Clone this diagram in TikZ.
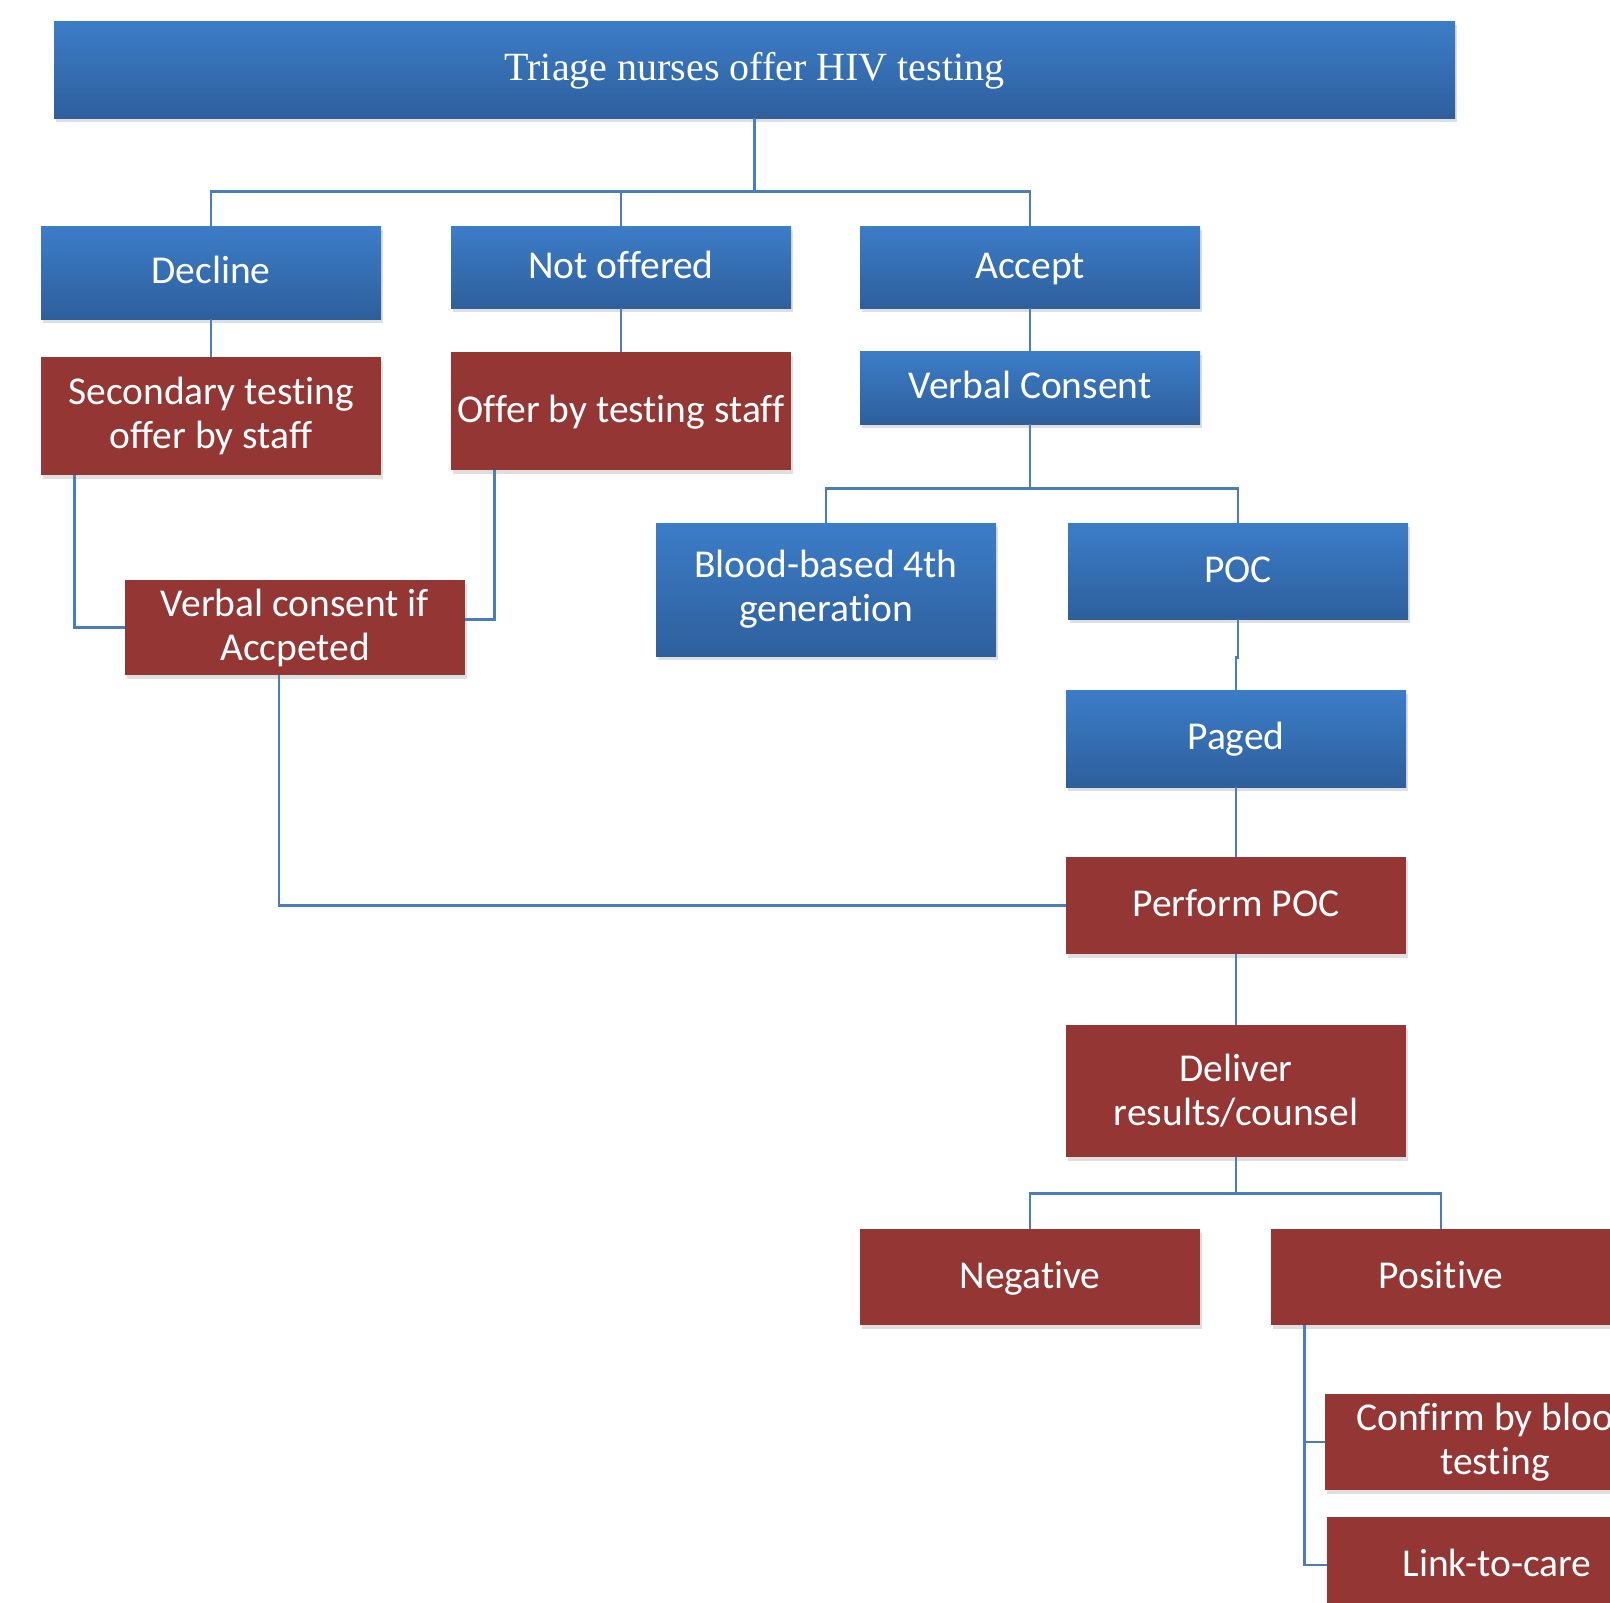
\documentclass[tikz,border=0pt]{standalone}
\usepackage{fontspec}
\setmainfont{Carlito}[Ligatures = NoCommon]
\newfontfamily\titlefont{Liberation Serif}
\usetikzlibrary{shadows}
\usetikzlibrary{calc}
\definecolor{boxblue}{HTML}{3C7DC8}
\definecolor{boxbluedark}{HTML}{2E5F9C}
\definecolor{boxred}{HTML}{943634}
\definecolor{connblue}{HTML}{4A7EBB}
\tikzset{ht/.style = {minimum height = #1 * 0.5pt}}
\tikzset{oneline/.style = {text height = 14.8pt, text depth = 3.75pt}}
\tikzset{box/.style = {minimum width = 170pt, inner sep = 0, align = center,
                       text = white, font = \fontsize{19.75}{22}\selectfont,
                       drop shadow = {shadow xshift = 1pt, shadow yshift = -2pt, opacity = 0.25}}}
\tikzset{bluebox/.style = {box, top color = boxblue, bottom color = boxbluedark}}
\tikzset{redbox/.style = {box, fill = boxred}}
\tikzset{conn/.style = {draw = connblue, line width = 1.2pt}}

\begin{document}
\begin{tikzpicture}[x = 0.5pt, y = -0.5pt]
    \useasboundingbox (0, 0) rectangle (1610, 1602);
    \clip (0, 0) rectangle (1610, 1602);

    \node [bluebox, oneline, minimum width = 700.5pt, ht = 97, font = \titlefont\fontsize{20}{24}\selectfont]
        (title) at (754.5, 69.5) {Triage nurses offer HIV testing};

    \node [bluebox, oneline, ht = 93] (decline) at (211, 272.5) {Decline};
    \node [bluebox, oneline, ht = 82] (notoff) at (621, 267) {Not offered};
    \node [bluebox, oneline, ht = 82] (accept) at (1030, 267) {Accept};
    \node [redbox, ht = 118] (second) at (211, 416) {Secondary testing\\offer by staff};
    \node [redbox, oneline, ht = 118] (offerstaff) at (621, 411) {Offer by testing staff};
    \node [bluebox, oneline, ht = 73] (verbal) at (1030, 387.5) {Verbal Consent};
    \node [bluebox, ht = 133] (blood) at (826, 589.5) {Blood-based 4th\\generation};
    \node [bluebox, oneline, ht = 96] (poc) at (1238, 571) {POC};
    \node [redbox, ht = 95] (vcif) at (295, 627.5) {Verbal consent if\\Accpeted};
    \node [bluebox, oneline, ht = 97] (paged) at (1236, 738.5) {Paged};
    \node [redbox, oneline, ht = 97] (perform) at (1236, 905.5) {Perform POC};
    \node [redbox, ht = 132] (deliver) at (1236, 1091) {Deliver\\results/counsel};
    \node [redbox, oneline, ht = 96] (negative) at (1030, 1277) {Negative};
    \node [redbox, oneline, ht = 96] (positive) at (1441, 1277) {Positive};
    \node [redbox, ht = 96] (confirm) at (1495, 1442) {Confirm by blood\\testing};
    \node [redbox, oneline, ht = 96] (linkcare) at (1497, 1565) {Link-to-care};

    % tree connectors
    \foreach \n in {decline, notoff, accept}
        \draw [conn] (title.south) -- ++(0, 73) -| (\n.north);
    \draw [conn] (decline) -- (second);
    \draw [conn] (notoff) -- (offerstaff);
    \draw [conn] (accept) -- (verbal);
    \foreach \n in {blood, poc}
        \draw [conn] (verbal.south) -- ++(0, 64) -| (\n.north);
    \draw [conn] (poc.south) -- ++(0, 38) -| (paged.north);
    \draw [conn] (paged) -- (perform);
    \draw [conn] (perform) -- (deliver);
    \foreach \n in {negative, positive}
        \draw [conn] (deliver.south) -- ++(0, 36) -| (\n.north);

    \draw [conn] ($(second.south west) + (34, 0)$) |- (vcif.west);
    \draw [conn] ($(offerstaff.south west) + (44, 0)$) |- ($(vcif.east) + (0, -8)$);
    \draw [conn] ($(vcif.south) + (-16, 0)$) |- (perform.west);
    \foreach \n in {confirm, linkcare}
        \draw [conn] ($(positive.south west) + (34, 0)$) |- (\n.west);
\end{tikzpicture}
\end{document}
